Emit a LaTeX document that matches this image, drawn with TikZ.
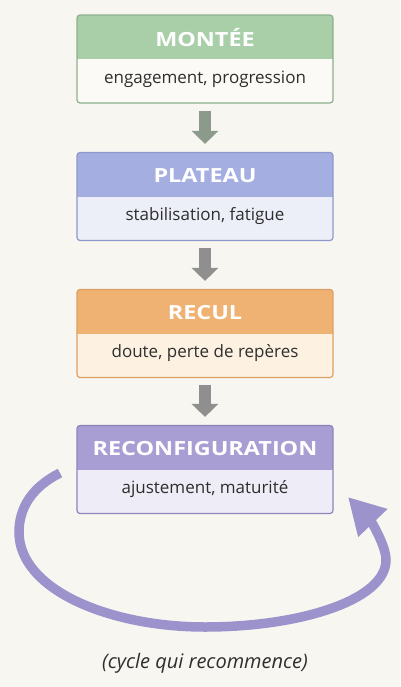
\documentclass[tikz,border=0pt]{standalone}
\usepackage{fontspec}
\setmainfont{Open Sans}
\newfontfamily\headfont{Open Sans}[FakeStretch=1.2]
\usetikzlibrary{arrows.meta}
\definecolor{bg}{HTML}{F8F6F1}
\definecolor{gH}{HTML}{A9CFA9}\definecolor{gB}{HTML}{FBFAF6}\definecolor{gD}{HTML}{8DB08D}
\definecolor{bH}{HTML}{A4AEE0}\definecolor{bB}{HTML}{ECEEF8}\definecolor{bD}{HTML}{8E98CC}
\definecolor{oH}{HTML}{F0B272}\definecolor{oB}{HTML}{FDF1E2}\definecolor{oD}{HTML}{DDA064}
\definecolor{pH}{HTML}{A99ED3}\definecolor{pB}{HTML}{EEECF6}\definecolor{pD}{HTML}{8E84BC}
\definecolor{arr1}{HTML}{8C9A8C}\definecolor{arr}{HTML}{8F8F8F}
\definecolor{cyc}{HTML}{9D93CC}
\definecolor{txt}{HTML}{2E2E2E}
\tikzset{
  stagebox/.style={draw=#1, line width=1.2pt, rounded corners=3pt, minimum width=256pt, minimum height=88pt, inner sep=0pt},
  headtxt/.style={font=\headfont\fontsize{19.5}{21}\selectfont\bfseries, text=white},
  subtxt/.style={font=\fontsize{17}{19}\selectfont, text=txt},
  flowarrow/.style={draw=#1, line width=12pt, -{Triangle[width=26pt,length=13pt]}, shorten <=7pt, shorten >=8pt},
}
\newcommand{\stage}[7]{%
  \fill[#4, rounded corners=3pt] (77,#2-44) rectangle (333,#2+44);
  \begin{scope}
    \clip[rounded corners=3pt] (77,#2-44) rectangle (333,#2+44);
    \fill[#3] (77,#2-44) rectangle (333,#2+0.5);
  \end{scope}
  \node[stagebox=#5] (#1) at (205,#2) {};
  \node[headtxt] (#1h) at (205,#2-21) {#6};
  \node[subtxt] (#1s) at (205,#2+20) {#7};
}
\begin{document}
\begin{tikzpicture}[x=1pt,y=-1pt]
\fill[bg] (0,0) rectangle (400,687);
\useasboundingbox (0,0) rectangle (400,687);
\stage{m}{59}{gH}{gB}{gD}{MONTÉE}{engagement, progression}
\stage{p}{196.5}{bH}{bB}{bD}{PLATEAU}{stabilisation, fatigue}
\stage{r}{333.5}{oH}{oB}{oD}{RECUL}{doute, perte de repères}
\stage{c}{469.5}{pH}{pB}{pD}{RECONFIGURATION}{ajustement, maturité}
\draw[flowarrow=arr1] (m.south) -- (p.north);
\draw[flowarrow=arr] (p.south) -- (r.north);
\draw[flowarrow=arr] (r.south) -- (c.north);
\coordinate (cs) at (60,473);
\coordinate (ce) at (348,497);
\draw[cyc, line width=9.5pt, -{Triangle[width=38pt,length=36pt]}]
  (cs) .. controls (32,487) and (19,508) .. (19,532)
       .. controls (19,590) and (110,627) .. (205,627)
       .. controls (300,627) and (386,600) .. (386,560)
       .. controls (386,545) and (370,520) .. (ce);
\node[font=\fontsize{20}{22}\selectfont\itshape, text=txt] (lbl) at (205,663) {(cycle qui recommence)};
\end{tikzpicture}
\end{document}
